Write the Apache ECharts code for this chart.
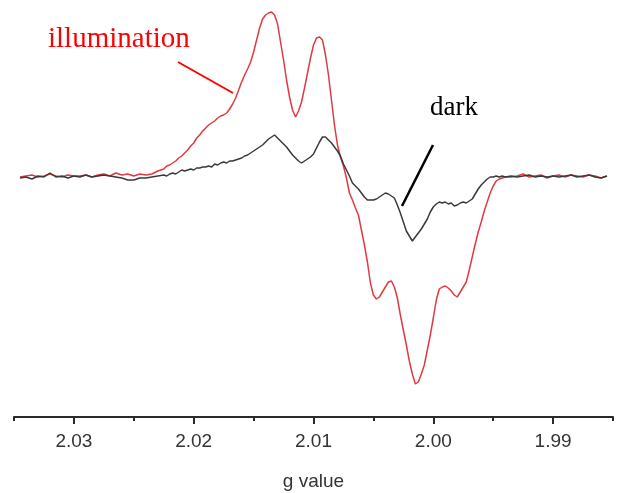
<!DOCTYPE html>
<html>
<head>
<meta charset="utf-8">
<script src="https://cdn.jsdelivr.net/npm/echarts@6/dist/echarts.min.js"></script>
<style>html,body{margin:0;padding:0;background:#fff;}#chart{width:617px;height:493px;}</style>
</head>
<body>
<div id="chart"></div>
<script>
// g values (sample positions along the field axis)
var gValues = [
2.0345,2.0340,2.0335,2.0330,2.0325,2.0320,2.0315,2.0310,2.0305,2.0300,2.0295,2.0290,2.0285,2.0280,2.0275,2.0270,2.0265,2.0260,2.0255,2.0250,2.0245,2.0240,2.0235,2.0230,2.0225,
2.02225,2.02200,2.02175,2.02150,2.02125,2.02100,2.02075,2.02050,2.02025,2.02000,
2.01975,2.01950,2.01925,2.01900,2.01875,2.01850,2.01825,2.01800,2.01775,2.01750,
2.01725,2.01700,2.01675,2.01650,2.01625,2.01600,2.01575,2.01550,2.01525,2.01500,
2.01475,2.01450,2.01425,2.01400,2.01375,2.01350,2.01325,2.01300,2.01275,2.01250,
2.01225,2.01200,2.01175,2.01150,2.01125,2.01100,2.01075,2.01050,2.01025,2.01000,
2.00975,2.00950,2.00925,2.00900,2.00875,2.00850,2.00825,2.00800,2.00775,2.00750,
2.00725,2.00700,2.00675,2.00650,2.00625,2.00600,2.00575,2.00550,2.00525,2.00500,
2.00475,2.00450,2.00425,2.00400,2.00375,2.00350,2.00325,2.00300,2.00275,2.00250,
2.00225,2.00200,2.00175,2.00150,2.00125,2.00100,2.00075,2.00050,2.00025,2.00000,
1.99975,1.99950,1.99925,1.99900,1.99875,1.99850,1.99825,1.99800,1.99775,1.99750,
1.99725,1.99700,1.99675,1.99650,1.99625,1.99600,1.99575,1.99550,1.99525,1.99500,
1.99475,1.99450,1.99425,1.99400,
1.9935,1.9930,1.9925,1.9920,1.9915,1.9910,1.9905,1.9900,1.9895,1.9890,1.9885,1.9880,1.9875,1.9870,1.9865,1.9860,1.9855
];

// EPR signal under illumination (arb. units)
var illumination = [
-1,0,1,-1,0,2,0,-1,1,0,0,1,-1,1,2,0,3,1,2,0,2,1,2,5,7,
10,11,13,15,18,20,23,26,30,33,
38,41,45,48,51,53,55,58,60,61,
63,67,72,78,86,94,101,107,114,124,
136,148,157,161,163,164,161,152,134,116,
96,79,66,59,65,74,88,103,118,131,
138,139,136,121,101,76,51,31,19,10,
-2,-17,-24,-32,-39,-54,-69,-86,-107,-119,
-123,-121,-116,-111,-106,-105,-111,-122,-139,-154,
-169,-185,-198,-208,-206,-198,-189,-174,-159,-142,
-124,-113,-111,-110,-112,-115,-119,-121,-116,-111,
-106,-94,-81,-68,-56,-46,-35,-26,-17,-10,
-5,-3,-2,-1,
-1,0,2,-1,0,1,-2,0,1,-1,1,0,-1,1,0,-2,0
];

// EPR signal in the dark (arb. units)
var dark = [
-2,-1,-3,0,-1,3,-1,0,-2,0,-1,1,-1,0,1,0,-1,-2,-4,-4,-2,-2,-1,0,1,
0,2,3,2,4,6,5,6,7,6,
8,8,9,9,10,9,12,11,13,14,
13,15,15,16,17,18,20,21,23,25,
27,29,31,34,37,39,41,38,35,32,
29,25,21,18,15,13,15,17,19,22,
28,34,39,39,36,33,29,25,20,12,
6,0,-7,-10,-13,-17,-21,-24,-24,-24,
-23,-21,-19,-17,-18,-20,-22,-29,-37,-46,
-55,-60,-65,-61,-57,-53,-48,-43,-36,-31,
-28,-26,-27,-26,-28,-27,-30,-29,-27,-26,
-27,-25,-23,-18,-13,-9,-6,-3,-1,-1,
0,-1,0,-1,
0,-1,0,1,-1,0,-1,0,-1,0,1,-1,0,1,-1,-2,0
];

var majorTicks = [1.99, 2.00, 2.01, 2.02, 2.03];
var minorTicks = [1.985, 1.995, 2.005, 2.015, 2.025, 2.035];

function pairs(ys) { return gValues.map(function (g, i) { return [g, ys[i]]; }); }

var chart = echarts.init(document.getElementById('chart'), null, {renderer: 'canvas'});
var axisFont = 'Liberation Sans, Arial, sans-serif';
chart.setOption({
  animation: false,
  backgroundColor: '#ffffff',
  grid: {left: 14, right: 4, top: 0, bottom: 76, containLabel: false, outerBoundsMode: 'none'},
  xAxis: [{
    type: 'value', min: 1.985, max: 2.035, inverse: true, position: 'bottom',
    axisLine: {show: true, onZero: false, lineStyle: {color: '#2a2a2a', width: 2}},
    axisTick: {show: true, customValues: majorTicks, length: 7, inside: false, lineStyle: {color: '#2a2a2a', width: 2}},
    axisLabel: {show: true, customValues: majorTicks, margin: 15, fontSize: 19, color: '#333', fontFamily: axisFont,
      formatter: function (v) { return v.toFixed(2); }},
    splitLine: {show: false},
    name: 'g value', nameLocation: 'middle', nameGap: 55,
    nameTextStyle: {fontSize: 19, color: '#333', fontFamily: axisFont}
  }, {
    type: 'value', min: 1.985, max: 2.035, inverse: true, position: 'bottom',
    axisLine: {show: false, onZero: false},
    axisTick: {show: true, customValues: minorTicks, length: 4, inside: false, lineStyle: {color: '#2a2a2a', width: 2}},
    axisLabel: {show: false},
    splitLine: {show: false}
  }],
  yAxis: {type: 'value', min: -241, max: 176, show: false, splitLine: {show: false}},
  series: [{
    name: 'illumination', type: 'line', xAxisIndex: 0, data: pairs(illumination),
    showSymbol: false, symbol: 'none', lineStyle: {color: '#e03a40', width: 1.5}, z: 2
  }, {
    name: 'dark', type: 'line', xAxisIndex: 0, data: pairs(dark),
    showSymbol: false, symbol: 'none', lineStyle: {color: '#3a3a3a', width: 1.5}, z: 3
  }],
  graphic: [
    {type: 'text', left: 48, top: 25, style: {text: 'illumination', fill: '#ff0000', font: '29px "Liberation Serif", "Times New Roman", serif'}},
    {type: 'line', shape: {x1: 178, y1: 62, x2: 233, y2: 93}, style: {stroke: '#ff0000', lineWidth: 2}},
    {type: 'text', left: 430, top: 94, style: {text: 'dark', fill: '#000', font: '27px "Liberation Serif", "Times New Roman", serif'}},
    {type: 'line', shape: {x1: 433, y1: 145, x2: 402, y2: 206}, style: {stroke: '#000', lineWidth: 2.5}}
  ]
});
</script>
</body>
</html>
